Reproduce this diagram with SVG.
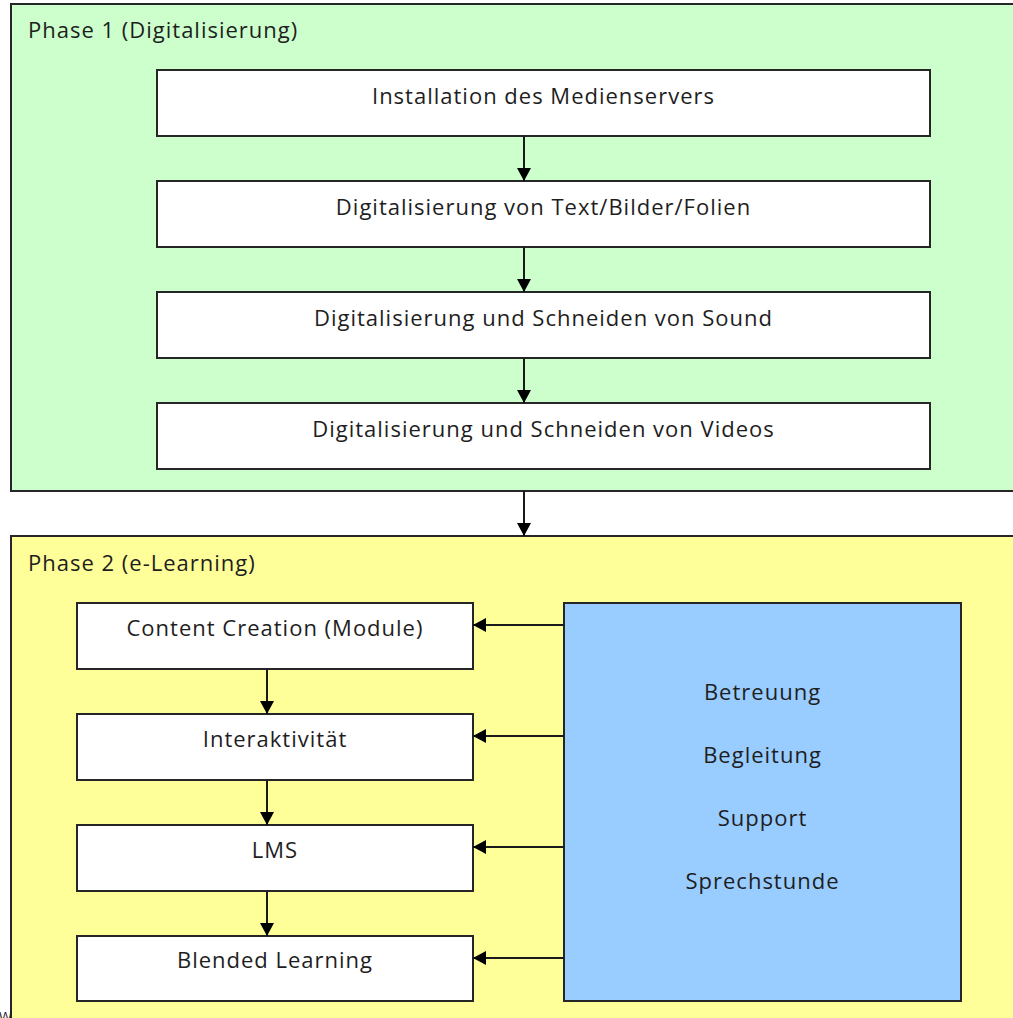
<svg xmlns="http://www.w3.org/2000/svg" width="1013" height="1018" viewBox="0 0 1013 1018">
<style>
text{font-family:"Open Sans","Liberation Sans",sans-serif;font-size:22px;letter-spacing:1px;fill:#1e1e1e}
.c{text-anchor:middle}
.box{fill:#fff;stroke:#262626;stroke-width:2}
.phase{stroke:#262626;stroke-width:2}
.con{stroke:#1a1a1a;stroke-width:2;fill:none;marker-end:url(#ah)}
</style>
<defs>
<marker id="ah" viewBox="0 0 13 14" refX="13" refY="7" markerWidth="13" markerHeight="14" markerUnits="userSpaceOnUse" orient="auto">
<path d="M0,0 L13,7 L0,14 z" fill="#000"/>
</marker>
</defs>
<rect width="1013" height="1018" fill="#fff"/>
<g id="phase1">
<rect class="phase" x="11" y="4" width="1010" height="487" fill="#CCFFCC"/>
<text x="28" y="38">Phase 1 (Digitalisierung)</text>
</g>
<g id="phase2">
<rect class="phase" x="11" y="536" width="1010" height="500" fill="#FFFF99"/>
<text x="28" y="571">Phase 2 (e-Learning)</text>
</g>
<g id="n1"><rect class="box" x="157" y="70" width="773" height="66"/><text class="c" x="543.5" y="104">Installation des Medienservers</text></g>
<g id="n2"><rect class="box" x="157" y="181" width="773" height="66"/><text class="c" x="543.5" y="215">Digitalisierung von Text/Bilder/Folien</text></g>
<g id="n3"><rect class="box" x="157" y="292" width="773" height="66"/><text class="c" x="543.5" y="326">Digitalisierung und Schneiden von Sound</text></g>
<g id="n4"><rect class="box" x="157" y="403" width="773" height="66"/><text class="c" x="543.5" y="437">Digitalisierung und Schneiden von Videos</text></g>
<g id="m1"><rect class="box" x="77" y="603" width="396" height="66"/><text class="c" x="275" y="636">Content Creation (Module)</text></g>
<g id="m2"><rect class="box" x="77" y="714" width="396" height="66"/><text class="c" x="275" y="747">Interaktivität</text></g>
<g id="m3"><rect class="box" x="77" y="825" width="396" height="66"/><text class="c" x="275" y="858">LMS</text></g>
<g id="m4"><rect class="box" x="77" y="936" width="396" height="65"/><text class="c" x="275" y="968">Blended Learning</text></g>
<g id="support">
<rect x="564" y="603" width="397" height="398" fill="#99CCFF" stroke="#262626" stroke-width="2"/>
<text class="c" x="762.5" y="700">Betreuung</text>
<text class="c" x="762.5" y="763">Begleitung</text>
<text class="c" x="762.5" y="826">Support</text>
<text class="c" x="762.5" y="889">Sprechstunde</text>
</g>
<g id="connectors">
<line class="con" x1="524" y1="136" x2="524" y2="181"/>
<line class="con" x1="524" y1="247" x2="524" y2="292"/>
<line class="con" x1="524" y1="358" x2="524" y2="403"/>
<line class="con" x1="524" y1="491" x2="524" y2="536"/>
<line class="con" x1="267" y1="669" x2="267" y2="714"/>
<line class="con" x1="267" y1="780" x2="267" y2="825"/>
<line class="con" x1="267" y1="891" x2="267" y2="936"/>
<line class="con" x1="564" y1="625" x2="473" y2="625"/>
<line class="con" x1="564" y1="736" x2="473" y2="736"/>
<line class="con" x1="564" y1="847" x2="473" y2="847"/>
<line class="con" x1="564" y1="958" x2="473" y2="958"/>
</g>
<text x="-1" y="1022" style="font-size:14px;letter-spacing:0">W</text>
</svg>
